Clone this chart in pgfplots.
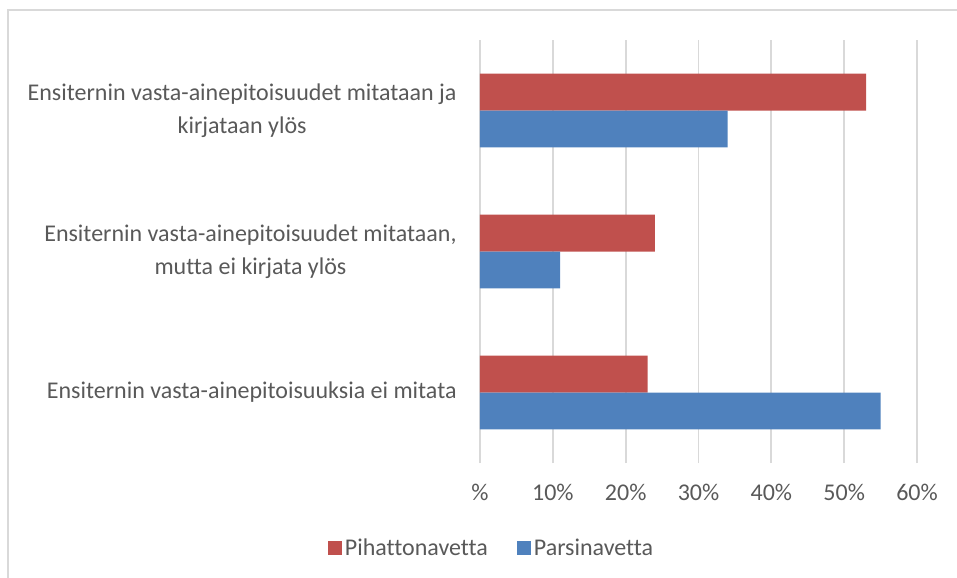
\documentclass[border=0pt]{standalone}
\usepackage{fontspec}
\setmainfont{Carlito}[RawFeature={-liga;-clig;-calt;-dlig}]
\usepackage{pgfplots}
\pgfplotsset{compat=1.18}
\definecolor{redbar}{HTML}{C0504D}
\definecolor{bluebar}{HTML}{4F81BD}
\definecolor{txt}{HTML}{595959}
\definecolor{gridc}{HTML}{D9D9D9}
\begin{document}
\begin{tikzpicture}[font=\fontsize{18pt}{24.75pt}\selectfont, text=txt]
% picture = 957x578 px at 0.75pt per px
\path[use as bounding box] (0,0) rectangle (717.75pt,-433.5pt);
\draw[gridc, line width=1.4pt] (6pt,-433.5pt) -- (6pt,-7.5pt) -- (717.75pt,-7.5pt);
\begin{axis}[
  at={(360pt,-347.25pt)}, anchor=south west,
  scale only axis, width=327.75pt, height=317.25pt,
  xbar, bar width=0.262,
  xmin=0, xmax=60, ymin=-0.5, ymax=2.5,
  xtick={0,10,...,60},
  xticklabels={\%,10\%,20\%,30\%,40\%,50\%,60\%},
  ytick={0,1,2},
  yticklabels={
    Ensiternin vasta-ainepitoisuuksia ei mitata,
    {Ensiternin vasta-ainepitoisuudet mitataan,\\ mutta ei kirjata ylös},
    {Ensiternin vasta-ainepitoisuudet mitataan ja\\ kirjataan ylös}},
  axis line style={draw=none},
  major tick length=0pt,
  xmajorgrids, major grid style={gridc, line width=1.4pt},
  xticklabel style={yshift=-12pt},
  yticklabel style={align=center, xshift=-14pt},
  legend columns=2,
  legend style={at={(0.0275,-0.201)}, anchor=center, draw=none, fill=none,
    /tikz/every even column/.append style={column sep=20pt}},
  legend image code/.code={\fill[#1] (0pt,-5.25pt) rectangle (10.5pt,5.25pt);},
]
\addplot[fill=redbar, draw=none, bar shift=0.131] coordinates {(23,0) (24,1) (53,2)};
\addlegendentry{Pihattonavetta}
\addplot[fill=bluebar, draw=none, bar shift=-0.131] coordinates {(55,0) (11,1) (34,2)};
\addlegendentry{Parsinavetta}
\end{axis}
\end{tikzpicture}
\end{document}
